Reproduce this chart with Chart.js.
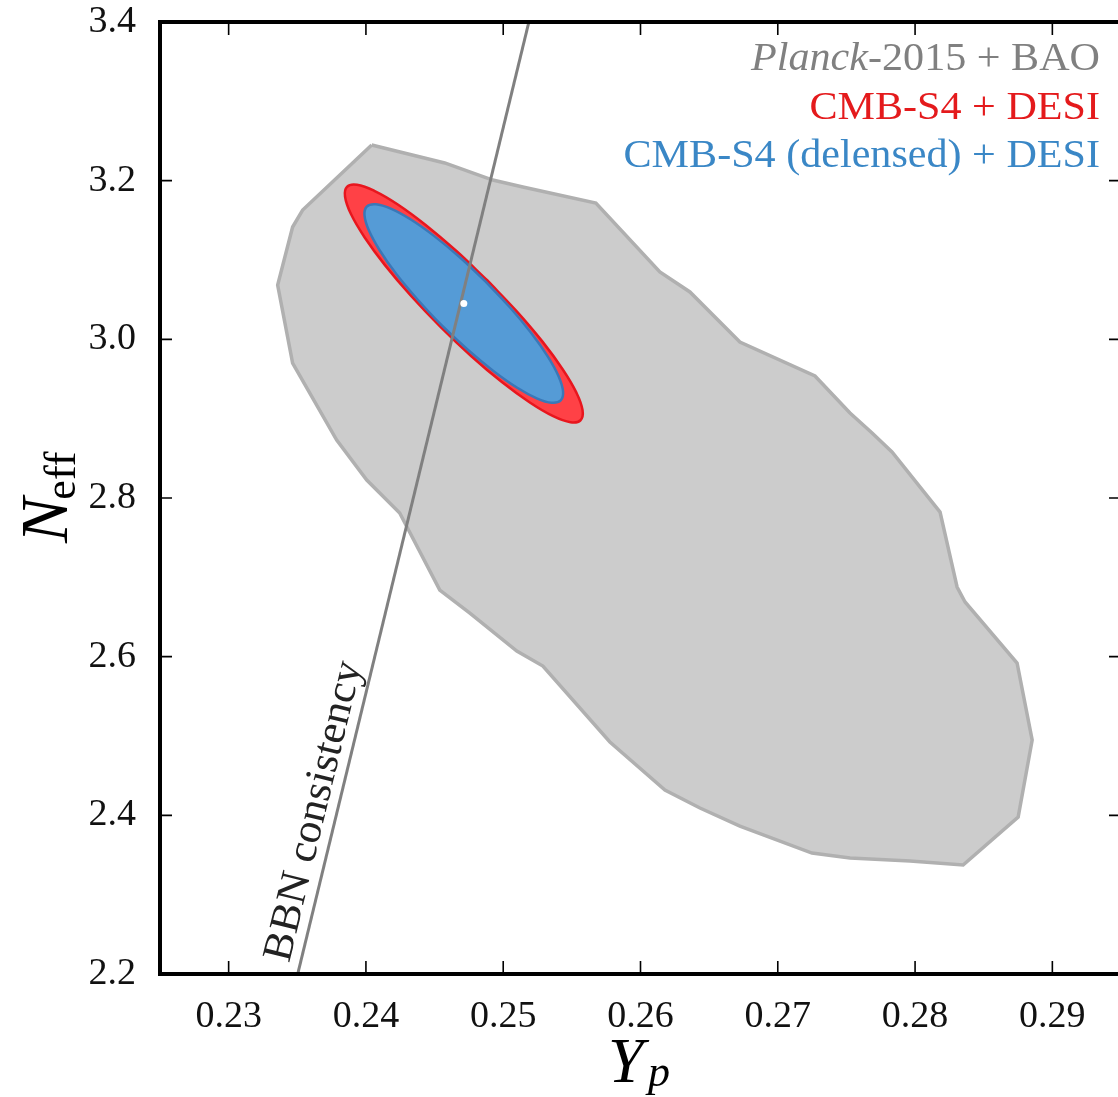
<!DOCTYPE html>
<html>
<head>
<meta charset="utf-8">
<script src="https://cdn.jsdelivr.net/npm/chart.js@4.4.1/dist/chart.umd.min.js"></script>
<style>
  html, body { margin: 0; padding: 0; background: #fff; overflow: hidden; }
  #wrap { width: 1118px; height: 1097px; overflow: hidden; }
</style>
</head>
<body>
<div id="wrap"><canvas id="bbnChart" width="1121" height="1097"></canvas></div>
<script>
// axis ticks
const xTicks = [0.23, 0.24, 0.25, 0.26, 0.27, 0.28, 0.29];
const yTicks = [2.2, 2.4, 2.6, 2.8, 3.0, 3.2, 3.4];

// Planck-2015 + BAO contour (outline)
const planckYp = [0.24042, 0.24574, 0.24924, 0.25143, 0.25675, 0.26141, 0.26360, 0.26724, 0.27271, 0.27526,
  0.27687, 0.27832, 0.28182, 0.28306, 0.28364, 0.28743, 0.28853, 0.28751, 0.28350, 0.27964,
  0.27526, 0.27249, 0.26724, 0.26433, 0.26178, 0.25777, 0.25289, 0.25099, 0.24757, 0.24538,
  0.24246, 0.24006, 0.23787, 0.23466, 0.23357, 0.23466, 0.23539];
const planckNeff = [3.2450, 3.2223, 3.2008, 3.1920, 3.1718, 3.0849, 3.0597, 2.9966, 2.9538, 2.9071,
  2.8819, 2.8580, 2.7823, 2.6878, 2.6689, 2.5920, 2.4949, 2.3979, 2.3374, 2.3424,
  2.3462, 2.3525, 2.3865, 2.4092, 2.4319, 2.4924, 2.5882, 2.6071, 2.6550, 2.6840,
  2.7811, 2.8227, 2.8731, 2.9701, 3.0685, 3.1416, 3.1630];

// CMB-S4 + DESI ellipse outline
const s4Yp = [0.24883, 0.24657, 0.24435, 0.24232, 0.24061, 0.23935, 0.23862, 0.23848, 0.23891, 0.23991,
  0.24140, 0.24329, 0.24543, 0.24768, 0.24990, 0.25194, 0.25364, 0.25490, 0.25563, 0.25578,
  0.25534, 0.25434, 0.25286, 0.25097];
const s4Neff = [3.0745, 3.1116, 3.1442, 3.1700, 3.1872, 3.1948, 3.1923, 3.1797, 3.1579, 3.1284,
  3.0932, 3.0547, 3.0158, 2.9787, 2.9461, 2.9204, 2.9031, 2.8955, 2.8980, 2.9106,
  2.9325, 2.9620, 2.9971, 3.0356];

// CMB-S4 (delensed) + DESI ellipse outline
const s4dYp = [0.24872, 0.24684, 0.24498, 0.24327, 0.24181, 0.24072, 0.24006, 0.23990, 0.24022, 0.24101,
  0.24221, 0.24376, 0.24553, 0.24742, 0.24928, 0.25099, 0.25244, 0.25353, 0.25419, 0.25436,
  0.25404, 0.25325, 0.25204, 0.25050];
const s4dNeff = [3.0728, 3.1034, 3.1301, 3.1510, 3.1647, 3.1702, 3.1673, 3.1560, 3.1371, 3.1120,
  3.0823, 3.0502, 3.0175, 2.9869, 2.9602, 2.9393, 2.9257, 2.9201, 2.9230, 2.9343,
  2.9533, 2.9783, 3.0080, 3.0401];

// BBN consistency line and fiducial point
const bbnYp = [0.23503, 0.25187];
const bbnNeff = [2.2, 3.4];
const fidYp = [0.24713];
const fidNeff = [3.0452];

const legendText = ['-2015 + BAO', 'CMB-S4 + DESI', 'CMB-S4 (delensed) + DESI'];
const legendItalic = ['Planck', '', ''];
const legendColors = ['#808080', '#e41a1c', '#3a87c6'];

const serif = "'Liberation Serif', 'DejaVu Serif', serif";

const toPoints = (xs, ys, close) => {
  const pts = xs.map((v, i) => ({ x: v, y: ys[i] }));
  if (close) pts.push({ x: xs[0], y: ys[0] });
  return pts;
};

// frame, inward ticks, legend text and axis titles
const decorations = {
  id: 'decorations',
  afterDraw(chart) {
    const { ctx, chartArea: a, scales: { x, y } } = chart;
    ctx.save();
    ctx.strokeStyle = '#000';
    ctx.lineWidth = 1.6;
    ctx.beginPath();
    xTicks.forEach(v => {
      const px = x.getPixelForValue(v);
      ctx.moveTo(px, a.bottom); ctx.lineTo(px, a.bottom - 13);
      ctx.moveTo(px, a.top); ctx.lineTo(px, a.top + 13);
    });
    yTicks.forEach(v => {
      const py = y.getPixelForValue(v);
      ctx.moveTo(a.left, py); ctx.lineTo(a.left + 12, py);
      ctx.moveTo(a.right, py); ctx.lineTo(a.right - 12, py);
    });
    ctx.stroke();

    ctx.lineWidth = 4;
    ctx.strokeRect(a.left, a.top, a.right - a.left, a.bottom - a.top);

    // legend (right aligned, stretched a little like the TeX font)
    ctx.textBaseline = 'alphabetic';
    legendText.forEach((t, i) => {
      const by = 70 + i * 48.5;
      ctx.save();
      ctx.translate(1100, by);
      ctx.scale(1.08, 1);
      ctx.textAlign = 'right';
      ctx.fillStyle = legendColors[i];
      ctx.font = '39px ' + serif;
      ctx.fillText(t, 0, 0);
      if (legendItalic[i]) {
        const w = ctx.measureText(t).width;
        ctx.font = 'italic 39px ' + serif;
        ctx.fillText(legendItalic[i], -w, 0);
      }
      ctx.restore();
    });

    // BBN consistency label along the line
    const p1 = { x: x.getPixelForValue(bbnYp[0]), y: y.getPixelForValue(bbnNeff[0]) };
    const p2 = { x: x.getPixelForValue(bbnYp[1]), y: y.getPixelForValue(bbnNeff[1]) };
    const ang = Math.atan2(p2.y - p1.y, p2.x - p1.x);
    const along = (a.bottom - 966) / Math.sin(-ang);
    const ax = p1.x + along * Math.cos(ang) - 11 * Math.cos(ang + Math.PI / 2);
    const ay = p1.y + along * Math.sin(ang) - 11 * Math.sin(ang + Math.PI / 2);
    ctx.save();
    ctx.translate(ax, ay);
    ctx.rotate(ang);
    ctx.scale(1.05, 1);
    ctx.textAlign = 'left';
    ctx.fillStyle = '#222';
    ctx.font = '42px ' + serif;
    ctx.fillText('BBN consistency', 0, 0);
    ctx.restore();

    // x title: Y_p
    ctx.textAlign = 'left';
    ctx.fillStyle = '#000';
    ctx.font = 'italic 64px ' + serif;
    ctx.fillText('Y', 608, 1082);
    ctx.font = 'italic 44px ' + serif;
    ctx.fillText('p', 648, 1086);

    // y title: N_eff (eff upright)
    ctx.save();
    ctx.translate(67, 543);
    ctx.rotate(-Math.PI / 2);
    ctx.font = 'italic 68px ' + serif;
    ctx.fillText('N', 0, 0);
    const nw = ctx.measureText('N').width;
    ctx.font = '44px ' + serif;
    ctx.fillText('eff', nw - 2, 8);
    ctx.restore();
    ctx.restore();
  }
};

new Chart(document.getElementById('bbnChart'), {
  type: 'scatter',
  data: {
    datasets: [
      {
        label: 'fiducial',
        data: toPoints(fidYp, fidNeff),
        pointRadius: 3.5,
        pointBackgroundColor: '#ffffff',
        pointBorderWidth: 0,
        order: 0
      },
      {
        label: 'BBN consistency',
        data: toPoints(bbnYp, bbnNeff),
        showLine: true,
        pointRadius: 0,
        borderColor: '#808080',
        borderWidth: 3,
        order: 1
      },
      {
        label: 'CMB-S4 (delensed) + DESI',
        data: toPoints(s4dYp, s4dNeff, true),
        showLine: true,
        tension: 0.4,
        pointRadius: 0,
        borderColor: '#3a78b8',
        borderWidth: 2.5,
        backgroundColor: '#559bd6',
        fill: 'shape',
        order: 2
      },
      {
        label: 'CMB-S4 + DESI',
        data: toPoints(s4Yp, s4Neff, true),
        showLine: true,
        tension: 0.4,
        pointRadius: 0,
        borderColor: '#e8161e',
        borderWidth: 2.5,
        backgroundColor: '#ff4146',
        fill: 'shape',
        order: 3
      },
      {
        label: 'Planck-2015 + BAO',
        data: toPoints(planckYp, planckNeff, true),
        showLine: true,
        tension: 0,
        pointRadius: 0,
        borderColor: '#b0b0b0',
        borderWidth: 3.5,
        backgroundColor: '#cccccc',
        fill: 'shape',
        order: 4
      }
    ]
  },
  options: {
    responsive: false,
    animation: false,
    devicePixelRatio: 1,
    events: [],
    layout: { autoPadding: false, padding: { top: 22, right: 0, left: 0, bottom: 0 } },
    plugins: {
      legend: { display: false },
      tooltip: { enabled: false }
    },
    scales: {
      x: {
        type: 'linear',
        min: 0.225,
        max: 0.295,
        grid: { display: false },
        border: { display: false },
        afterBuildTicks: s => { s.ticks = xTicks.map(v => ({ value: v })); },
        afterFit: s => { s.height = 123; s.paddingLeft = 0; s.paddingRight = 0; },
        ticks: {
          padding: 12,
          color: '#111',
          font: { family: serif, size: 38 },
          callback: v => v.toFixed(2)
        }
      },
      y: {
        type: 'linear',
        min: 2.2,
        max: 3.4,
        grid: { display: false },
        border: { display: false },
        afterBuildTicks: s => { s.ticks = yTicks.map(v => ({ value: v })); },
        afterFit: s => { s.width = 160; s.paddingTop = 0; s.paddingBottom = 0; },
        ticks: {
          padding: 16,
          color: '#111',
          font: { family: serif, size: 38 },
          callback: v => v.toFixed(1)
        }
      }
    }
  },
  plugins: [decorations]
});
</script>
</body>
</html>
